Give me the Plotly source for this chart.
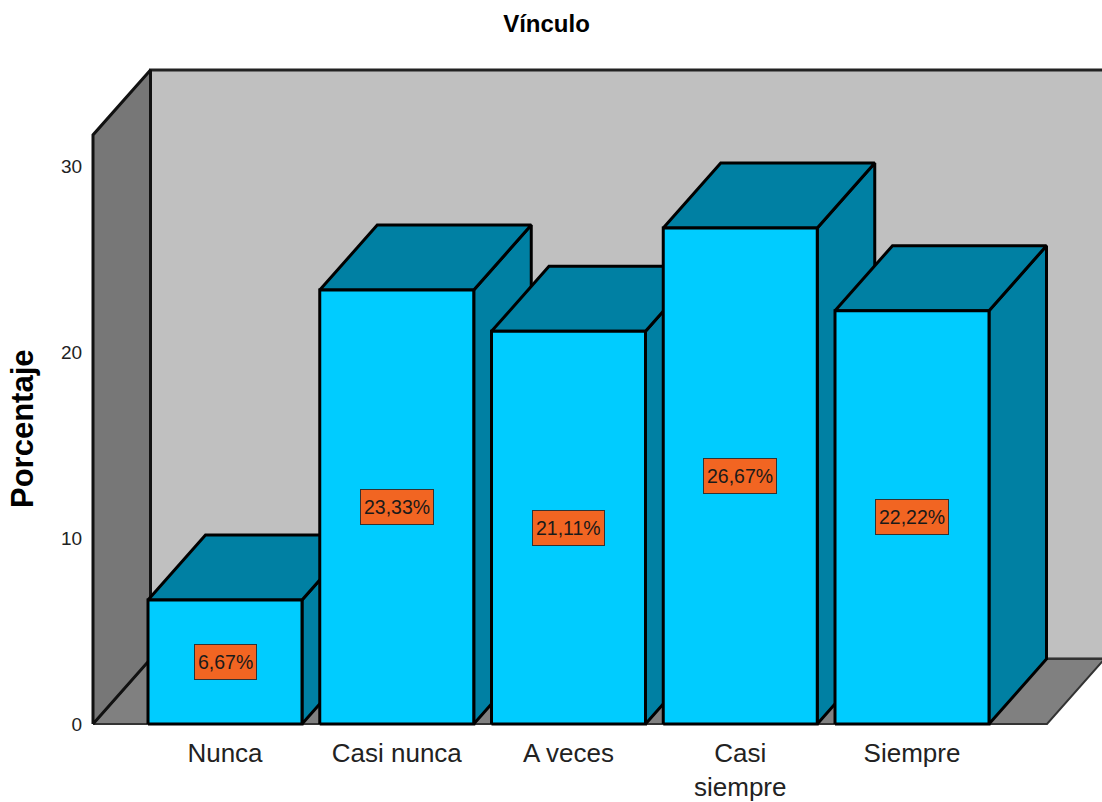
import plotly.graph_objects as go

# ---- data ----
categories = ["Nunca", "Casi nunca", "A veces", "Casi<br>siempre", "Siempre"]
percentages = [6.67, 23.33, 21.11, 26.67, 22.22]
y_ticks = [0, 10, 20, 30]

# ---- style ----
FRONT = "#00ccff"
SHADE = "#0080a3"
WALL = "#c0c0c0"
SIDE_WALL = "#777777"
FLOOR = "#808080"
LABEL_BG = "#f26522"

W, H = 1102, 802
PX_PER_CAT = 171.75
PX_PER_UNIT = 18.6
X0_PX, Y0_PX = 225.0, 724.0     # pixel of category 0 / value 0
L, T, B_PX = 88, 66, 729        # plot-area edges in pixels
BAR_W = 154 / PX_PER_CAT
DX = 57.5 / PX_PER_CAT          # depth, category units
DY = 65 / PX_PER_UNIT           # depth, value units
Y_FRONT_TOP = 31.67             # top of the front edge of the left wall
X_LEFT = (93 - X0_PX) / PX_PER_CAT
X_RIGHT = (1047 - X0_PX) / PX_PER_CAT

fig = go.Figure()


def poly(xs, ys, fill, lw=3, lc="black"):
    fig.add_trace(go.Scatter(
        x=xs + xs[:1], y=ys + ys[:1], mode="lines", fill="toself",
        fillcolor=fill, line=dict(color=lc, width=lw), hoverinfo="skip",
        showlegend=False))


# back wall, floor, left wall
poly([X_LEFT + DX, X_RIGHT + DX * 1.1, X_RIGHT + DX * 1.1, X_LEFT + DX],
     [DY, DY, Y_FRONT_TOP + DY, Y_FRONT_TOP + DY], WALL, 3, "#222222")
poly([X_LEFT, X_RIGHT, X_RIGHT + DX, X_LEFT + DX], [0, 0, DY, DY], FLOOR, 2, "#333333")
poly([X_LEFT, X_LEFT + DX, X_LEFT + DX, X_LEFT],
     [0, DY, Y_FRONT_TOP + DY, Y_FRONT_TOP], SIDE_WALL, 3, "#111111")

# bars, left to right so later bars hide earlier depth faces
annotations = []
for i, v in enumerate(percentages):
    a, b = i - BAR_W / 2, i + BAR_W / 2
    poly([b, b + DX, b + DX, b], [0, DY, v + DY, v], SHADE)
    poly([a, b, b + DX, a + DX], [v, v, v + DY, v + DY], SHADE)
    poly([a, b, b, a], [0, 0, v, v], FRONT)
    annotations.append(dict(
        x=i, y=v / 2, xref="x", yref="y", showarrow=False,
        text=f"{v:.2f}%".replace(".", ","),
        font=dict(family="Liberation Sans", size=19.5, color="#1a1a1a"),
        bgcolor=LABEL_BG, bordercolor="#333333", borderwidth=1, borderpad=3,
        height=28))

annotations.append(dict(
    x=(22 - L) / (W - L), y=(B_PX - 429) / (B_PX - T), xref="paper", yref="paper",
    xanchor="center", yanchor="middle",
    showarrow=False, text="<b>Porcentaje</b>", textangle=-90,
    font=dict(family="Liberation Sans", size=31, color="black")))

fig.update_layout(
    width=W, height=H, margin=dict(l=L, r=0, t=T, b=H - B_PX, autoexpand=False),
    paper_bgcolor="white", plot_bgcolor="white", showlegend=False,
    title=dict(text="<b>Vínculo</b>", x=546.5 / W, xanchor="center",
               y=1 - 24 / H, yanchor="middle",
               font=dict(family="Liberation Sans", size=24, color="black")),
    xaxis=dict(range=[(L - X0_PX) / PX_PER_CAT, (W - X0_PX) / PX_PER_CAT],
               tickvals=list(range(len(categories))), ticktext=categories,
               showgrid=False, zeroline=False, showline=False, automargin=False,
               ticks="outside", ticklen=1, tickcolor="rgba(0,0,0,0)",
               tickfont=dict(family="Liberation Sans", size=26, color="#222222")),
    yaxis=dict(range=[(Y0_PX - B_PX) / PX_PER_UNIT, (Y0_PX - T) / PX_PER_UNIT],
               tickvals=y_ticks, showgrid=False, zeroline=False, showline=False,
               automargin=False,
               ticks="outside", ticklen=1, tickcolor="rgba(0,0,0,0)",
               tickfont=dict(family="Liberation Sans", size=19, color="#222222")),
    annotations=annotations,
)

fig.write_html("out.html", config=dict(displayModeBar=False),
               post_script="document.body.style.margin='0';")
